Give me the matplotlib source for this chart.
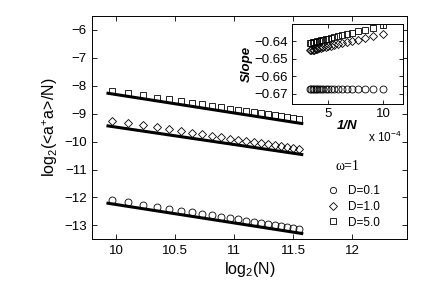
import numpy as np
import matplotlib
matplotlib.use("Agg")
import matplotlib.pyplot as plt
from matplotlib.lines import Line2D

plt.rcParams['font.family'] = ['Liberation Sans', 'DejaVu Sans']
plt.rcParams['mathtext.fontset'] = 'custom'
plt.rcParams['mathtext.rm'] = 'Liberation Sans'
plt.rcParams['mathtext.it'] = 'Liberation Sans:italic'
plt.rcParams['mathtext.bf'] = 'Liberation Sans:bold'

# ---- data ----
N = [1000, 1100, 1200, 1300, 1400, 1500, 1600, 1700, 1800, 1900, 2000,
     2100, 2200, 2300, 2400, 2500, 2600, 2700, 2800, 2900, 3000]

y_D01 = [-12.08, -12.17, -12.255, -12.33, -12.40, -12.47, -12.53, -12.59,
         -12.645, -12.70, -12.75, -12.79, -12.84, -12.88, -12.92, -12.96,
         -13.00, -13.04, -13.07, -13.10, -13.14]
y_D10 = [-9.25, -9.338, -9.418, -9.492, -9.561, -9.624, -9.684, -9.740,
         -9.793, -9.843, -9.891, -9.935, -9.978, -10.019, -10.059, -10.096,
         -10.132, -10.167, -10.201, -10.234, -10.265]
y_D50 = [-8.18, -8.267, -8.347, -8.421, -8.489, -8.552, -8.611, -8.667,
         -8.719, -8.769, -8.816, -8.861, -8.903, -8.944, -8.983, -9.021,
         -9.057, -9.091, -9.125, -9.157, -9.188]

# fitted reference lines (end points)
fit_x = [9.92, 11.585]
fit_D01 = [-12.20, -13.30]
fit_D10 = [-9.43, -10.47]
fit_D50 = [-8.26, -9.36]

# inset: slope vs 1/N
slope_D01 = [-0.6675] * 21
slope_D10 = [-0.6357, -0.6370, -0.6381, -0.6390, -0.6398, -0.6404, -0.6410,
             -0.6416, -0.6420, -0.6425, -0.6428, -0.6432, -0.6435, -0.6438,
             -0.6440, -0.6442, -0.6445, -0.6447, -0.6449, -0.6450, -0.6452]
slope_D50 = [-0.6307, -0.6321, -0.6333, -0.6343, -0.6351, -0.6358, -0.6365,
             -0.6371, -0.6376, -0.6380, -0.6384, -0.6388, -0.6391, -0.6394,
             -0.6397, -0.6400, -0.6402, -0.6404, -0.6406, -0.6408, -0.6410]

labels = ['D=0.1', 'D=1.0', 'D=5.0']
markers = ['o', 'D', 's']

x_main = np.log2(np.array(N, dtype=float))
x_inset = 1e4 / np.array(N, dtype=float)

W, H = 436, 286
fig = plt.figure(figsize=(W / 100, H / 100), dpi=100)
ax = fig.add_axes([92.3 / W, 1 - 239.3 / H, (406.7 - 92.3) / W, (239.3 - 16) / H])

mk = dict(linestyle='none', markerfacecolor='none', markeredgecolor='black',
          markeredgewidth=0.6)
ms = [5.0, 4.0, 4.6]
for ys, fy, m, s, lab in zip([y_D01, y_D10, y_D50], [fit_D01, fit_D10, fit_D50],
                             markers, ms, labels):
    ax.plot(x_main, ys, marker=m, markersize=s, label=lab, **mk)
    ax.plot(fit_x, fy, color='black', linewidth=2.2, solid_capstyle='butt')

ax.set_xlim(9.8, 12.46)
ax.set_ylim(-13.5, -5.5)
ax.set_xticks([10, 10.5, 11, 11.5, 12])
ax.set_xticklabels(['10', '10.5', '11', '11.5', '12'])
ax.set_yticks([-13, -12, -11, -10, -9, -8, -7, -6])
ax.tick_params(direction='in', top=True, right=True, length=3.5, width=0.6,
               labelsize=9.5, pad=4)
for sp in ax.spines.values():
    sp.set_linewidth(0.7)
ax.set_xlabel(r'log$_\mathregular{2}$(N)', fontsize=11.5, labelpad=2)
ax.set_ylabel(r'log$_\mathregular{2}$(<a$^\mathregular{+}$a>/N)', fontsize=11.5, labelpad=3)

ax.text(0.772, 0.325, 'ω=1', transform=ax.transAxes, fontsize=10,
        family=['Liberation Serif', 'DejaVu Serif'], ha='left', va='center')
handles = [Line2D([], [], marker=m, markersize=s * 0.9, **mk) for m, s in zip(markers, ms)]
ax.legend(handles, labels, loc='upper left', bbox_to_anchor=(0.7465, 0.241),
          frameon=False, fontsize=8.5, handlelength=1.0, handletextpad=0.8,
          borderpad=0, borderaxespad=0, labelspacing=0.3)

# inset
axi = fig.add_axes([291.7 / W, 1 - 104 / H, (402.7 - 291.7) / W, (104 - 24) / H])
for ys, m, s in zip([slope_D01, slope_D10, slope_D50], markers, ms):
    axi.plot(x_inset, ys, marker=m, markersize=s, **mk)
axi.set_xlim(1.67, 11.76)
axi.set_ylim(-0.676, -0.63)
axi.set_xticks([5, 10])
axi.set_yticks([-0.67, -0.66, -0.65, -0.64])
axi.tick_params(direction='in', top=True, right=True, length=3, width=0.6,
                labelsize=9.5, pad=3)
for sp in axi.spines.values():
    sp.set_linewidth(0.7)
axi.set_xlabel('1/N', fontsize=9.5, fontweight='bold', fontstyle='italic', labelpad=0)
axi.set_ylabel('Slope', fontsize=9.5, fontweight='bold', fontstyle='italic', labelpad=1)
fig.text(368 / W, 1 - 137 / H, r'x 10$^\mathregular{-4}$', fontsize=8.5,
         ha='left', va='center')

fig.savefig('out.png', dpi=100)
